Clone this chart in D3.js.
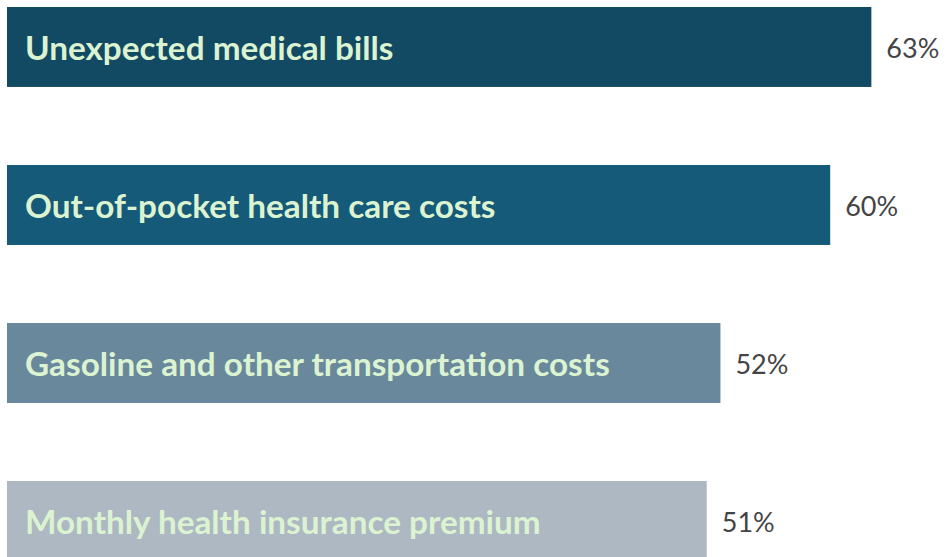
<!DOCTYPE html>
<html>
<head>
<meta charset="utf-8">
<script src="https://cdn.jsdelivr.net/npm/d3@7"></script>
<style>
  html, body { margin: 0; padding: 0; background: #fff; overflow: hidden; }
</style>
</head>
<body>
<div id="chart"></div>
<script>
(function () {
  'use strict';

  // ── Data ──
  var categories = [
    'Unexpected medical bills',
    'Out-of-pocket health care costs',
    'Gasoline and other transportation costs',
    'Monthly health insurance premium'
  ];
  var values = [63, 60, 52, 51];
  var barColors = ['#124a63', '#155a78', '#6a889c', '#adb8c2'];

  // ── Constants ──
  var WIDTH = 949;
  var HEIGHT = 557;
  var LABEL_COLOR = '#dcf3d2';
  var VALUE_COLOR = '#444444';
  var FONT = 'Lato, "Open Sans", sans-serif';

  var svg = d3.select('#chart')
    .append('svg')
    .attr('width', WIDTH)
    .attr('height', HEIGHT);

  var x = d3.scaleLinear()
    .domain([0, 100])
    .range([7, 7 + 1372]);

  var y = d3.scaleBand()
    .domain(categories)
    .range([7, 561])
    .paddingInner(0.494)
    .paddingOuter(0);

  var rows = categories.map(function (c, i) {
    return { name: c, value: values[i], color: barColors[i] };
  });

  // ── Bars ──
  svg.selectAll('.bar')
    .data(rows)
    .join('rect')
    .attr('class', 'bar')
    .attr('x', x(0))
    .attr('y', function (d) { return y(d.name); })
    .attr('width', function (d) { return x(d.value) - x(0); })
    .attr('height', y.bandwidth())
    .attr('fill', function (d) { return d.color; });

  // ── Category labels inside bars ──
  svg.selectAll('.cat-label')
    .data(rows)
    .join('text')
    .attr('class', 'cat-label')
    .attr('x', x(0) + 18)
    .attr('y', function (d) { return y(d.name) + y.bandwidth() / 2 + 13; })
    .attr('font-family', FONT)
    .attr('font-weight', 'bold')
    .attr('font-size', '33.3px')
    .attr('fill', LABEL_COLOR)
    .text(function (d) { return d.name; });

  // ── Value labels ──
  svg.selectAll('.val-label')
    .data(rows)
    .join('text')
    .attr('class', 'val-label')
    .attr('x', function (d) { return x(d.value) + 15; })
    .attr('y', function (d) { return y(d.name) + y.bandwidth() / 2 + 11; })
    .attr('font-family', FONT)
    .attr('font-size', '27px')
    .attr('fill', VALUE_COLOR)
    .text(function (d) { return d.value + '%'; });
})();
</script>
</body>
</html>
